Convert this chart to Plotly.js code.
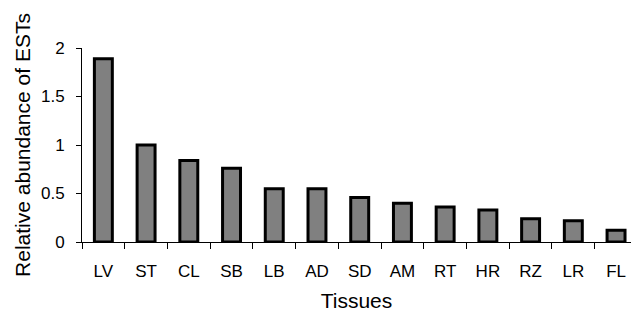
<!DOCTYPE html>
<html>
<head>
<meta charset="utf-8">
<script src="https://cdn.plot.ly/plotly-3.0.1.min.js"></script>
<style>html,body{margin:0;padding:0;background:#fff;}#chart{width:631px;height:312px;}</style>
</head>
<body>
<div id="chart"></div>
<script>
const tissues = ["LV","ST","CL","SB","LB","AD","SD","AM","RT","HR","RZ","LR","FL"];
const abundance = [1.89,1.0,0.84,0.76,0.55,0.55,0.46,0.40,0.36,0.33,0.24,0.22,0.12];
const yTickVals = [0,0.5,1,1.5,2];
const yTickText = ["0","0.5","1","1.5","2"];

const font = "Arial, 'Liberation Sans', sans-serif";
Plotly.newPlot("chart", [{
  type: "bar",
  x: tissues,
  y: abundance,
  width: 0.42,
  marker: {color: "#808080", line: {color: "#000000", width: 3}},
  hoverinfo: "none"
}], {
  width: 631, height: 312,
  margin: {l: 82, r: 0, t: 48, b: 70},
  paper_bgcolor: "#ffffff", plot_bgcolor: "#ffffff",
  showlegend: false,
  font: {family: font, color: "#000000", size: 17},
  xaxis: {
    type: "category",
    range: [-0.5, 12.35],
    showline: true, linecolor: "#000", linewidth: 1,
    ticks: "outside", tickson: "boundaries", ticklen: 6, tickcolor: "#000",
    showgrid: false, zeroline: false,
    tickfont: {size: 17},
    ticklabelstandoff: 14,
    title: {text: "Tissues", font: {size: 21}, standoff: 18}
  },
  yaxis: {
    range: [0, 2],
    tickvals: yTickVals, ticktext: yTickText,
    showline: true, linecolor: "#000", linewidth: 1,
    ticks: "outside", ticklen: 5, tickcolor: "#000",
    showgrid: false, zeroline: false,
    tickfont: {size: 17},
    ticklabelstandoff: 8,
    title: {text: "Relative abundance of ESTs", font: {size: 21}, standoff: 4}
  }
}, {staticPlot: true});
</script>
</body>
</html>
